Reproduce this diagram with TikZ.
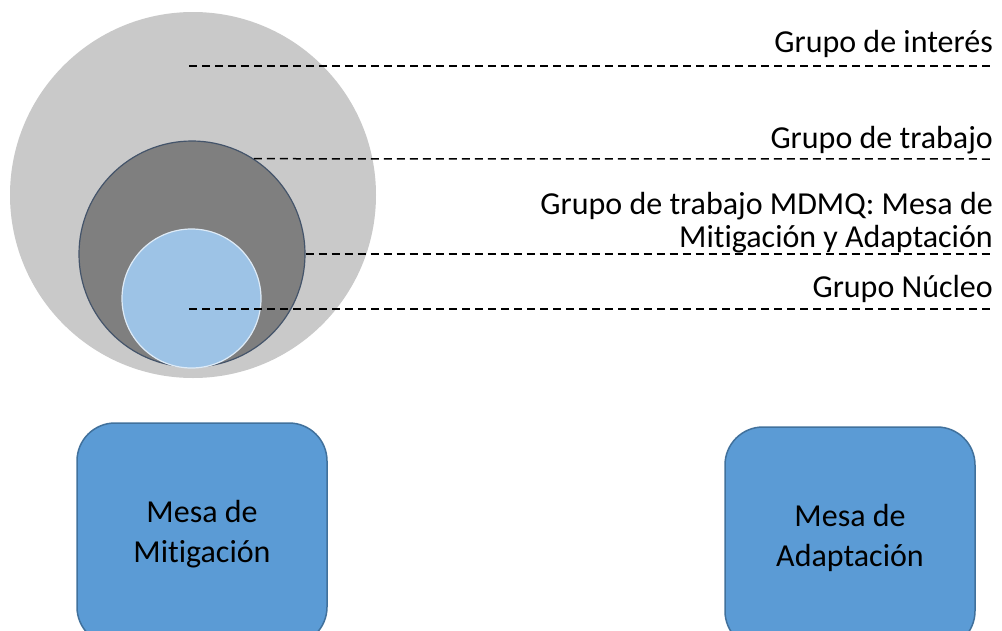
\documentclass[tikz,border=0pt]{standalone}
\usepackage{fontspec}
\setmainfont{Carlito}[Ligatures=NoCommon]
\usetikzlibrary{positioning}
\definecolor{outergray}{HTML}{C9C9C9}
\definecolor{midgray}{HTML}{7F7F7F}
\definecolor{midedge}{HTML}{44546A}
\definecolor{corefill}{HTML}{9DC3E6}
\definecolor{coreedge}{HTML}{DEEBF7}
\definecolor{mesafill}{HTML}{5B9BD5}
\definecolor{mesaedge}{HTML}{41719C}

\begin{document}
\begin{tikzpicture}[x=1pt,y=-1pt,
  ring/.style={circle,inner sep=0pt},
  guide/.style={line width=1.5pt,dash pattern=on 8pt off 5pt},
  tag/.style={anchor=base east,inner sep=0pt,align=right,font=\fontsize{32}{32.5}\selectfont},
  mesa/.style={rectangle,rounded corners=38pt,fill=mesafill,draw=mesaedge,line width=1.5pt,
    minimum width=250pt,minimum height=222pt,align=center,font=\fontsize{32}{39.5}\selectfont}]
\useasboundingbox (0,0) rectangle (1002,630);
\clip (0,0) rectangle (1002,630);

% nested groups
\node[ring,fill=outergray,minimum size=366pt]                              (interes) at (193,195)   {};
\node[ring,fill=midgray,draw=midedge,line width=1.2pt,minimum size=226pt]  (trabajo) at (192,254)   {};
\node[ring,fill=corefill,draw=coreedge,line width=1.2pt,minimum size=139pt] (nucleo) at (191.5,298.5) {};

% guide line ends
\coordinate (s1) at (189,66);
\coordinate (s4) at (189,309);
\coordinate (e1) at (993,66);
\coordinate (e2) at (993,159);
\coordinate (e3) at (993,254);
\coordinate (e4) at (993,309);

\draw[guide] (s1) -- (e1);
\draw[guide] (trabajo.57) -- (e2);
\draw[guide] (trabajo.east) -- (e3);
\draw[guide] (s4) -- (e4);

\node[tag] (t1) at (993,52)  {Grupo de interés};
\node[tag] (t2) at (993,148) {Grupo de trabajo};
\node[tag] (t3) at (993,247) {Grupo de trabajo MDMQ: Mesa de\\Mitigación y Adaptación};
\node[tag] (t4) at (993,297) {Grupo Núcleo};

% mesas
\node[mesa] (mitigacion) at (202,534) {Mesa de\\Mitigación};
\node[mesa] (adaptacion) at (850,538) {Mesa de\\Adaptación};

\end{tikzpicture}
\end{document}
